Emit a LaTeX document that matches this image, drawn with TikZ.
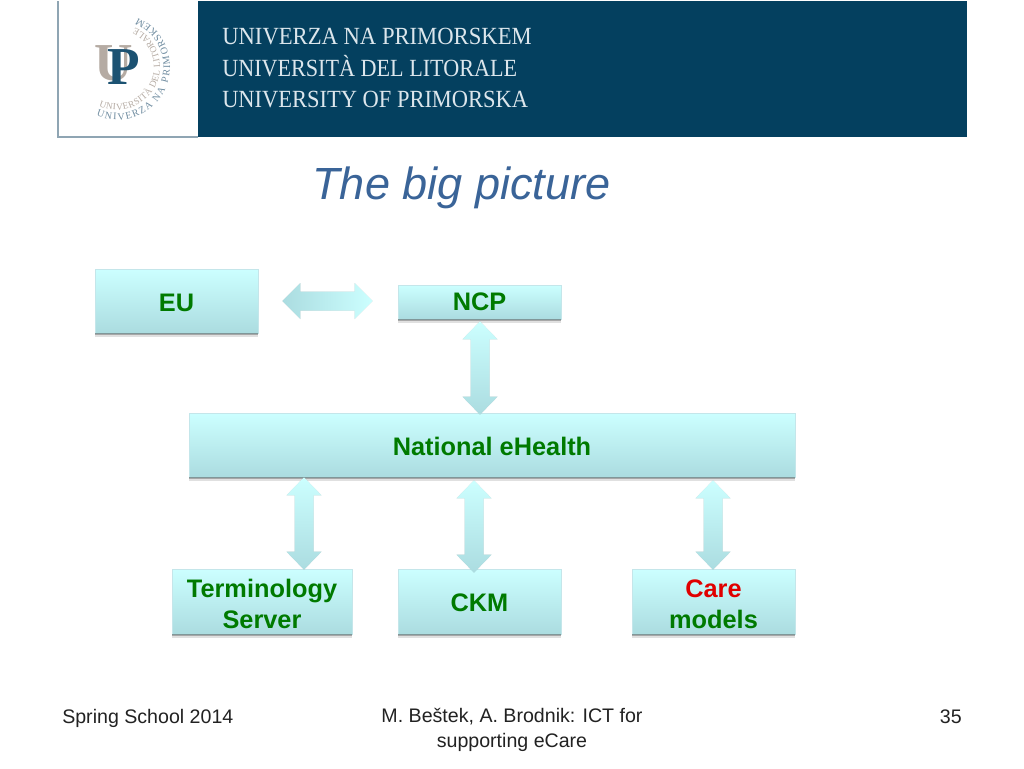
\documentclass[tikz,border=0pt]{standalone}
\usepackage{fontspec}
\setmainfont{Liberation Sans}
\newfontfamily\logofont{Liberation Serif}
\usetikzlibrary{calc,decorations.text}
\definecolor{headblue}{HTML}{04405F}
\definecolor{headline}{HTML}{8FA5B3}
\definecolor{headtext}{HTML}{DCE6EC}
\definecolor{logotan}{HTML}{B5ABA3}
\definecolor{logoblue}{HTML}{1C5272}
\definecolor{logogrey}{HTML}{6F8CA0}
\definecolor{titleblue}{HTML}{3A6498}
\definecolor{boxtop}{HTML}{CCFFFF}
\definecolor{boxbot}{HTML}{ABDCE0}
\definecolor{boxedge}{HTML}{C4E6EA}
\definecolor{labelgreen}{HTML}{007A00}
\definecolor{labelred}{HTML}{E00000}
\definecolor{foottext}{HTML}{222222}
\def\pxu{0.75pt}
\newcommand{\topstrut}{\rule{0pt}{15.8pt}}
\newcommand{\topstruttwo}{\rule{0pt}{17.3pt}}
\tikzset{
  x=0.75pt,y=-0.75pt,
  cbox/.style={rectangle,draw=boxedge,line width=0.5pt,top color=boxtop,bottom color=boxbot,
    text=labelgreen,align=center,inner sep=0pt,
    font=\fontsize{19}{23.25}\selectfont\bfseries},
  stripdark/.style={fill=black,opacity=0.25},
  stripsoft/.style={fill=black,opacity=0.12},
  headlabel/.style={anchor=base west,text=headtext,inner sep=0pt,font=\logofont\fontsize{18.5}{22}\selectfont},
  foot/.style={text=foottext,inner sep=0pt,font=\fontsize{14.7}{18.75}\selectfont},
  fatshadow/.style={fill=black,opacity=0.18}
}
% vertical double arrow between two named nodes: x, upper node tip, lower node tip
\newcommand{\vfatpath}{(ta) -- ($(ta)+(17.5,18)$) -- ($(ta)+(9.5,18)$) -- ($(tb)+(9.5,-18)$) -- ($(tb)+(17.5,-18)$) -- (tb) -- ($(tb)+(-17.5,-18)$) -- ($(tb)+(-9.5,-18)$) -- ($(ta)+(-9.5,18)$) -- ($(ta)+(-17.5,18)$) -- cycle}
\newcommand{\vfat}[3]{%
  \coordinate (pa) at (#2);
  \coordinate (pb) at (#3);
  \coordinate (ta) at (#1,0 |- pa);
  \coordinate (tb) at (#1,0 |- pb);
  \fill[fatshadow,yshift=-1.5pt] \vfatpath;
  \shade[top color=boxtop,bottom color=boxbot] \vfatpath;
}
\begin{document}
\begin{tikzpicture}
\useasboundingbox (0,0) rectangle (1024,768);
\fill[white] (0,0) rectangle (1024,768);
% header
\fill[headblue] (198,1) rectangle (967,137);
\draw[headline,line width=1.5pt] (58,1) -- (58,137) -- (198,137);
\node[headlabel] (h1) at (222,44) {\scalebox{0.918}[1]{UNIVERZA NA PRIMORSKEM}};
\node[headlabel] (h2) at (222,76) {\scalebox{0.898}[1]{UNIVERSITÀ DEL LITORALE}};
\node[headlabel] (h3) at (222,107) {\scalebox{0.911}[1]{UNIVERSITY OF PRIMORSKA}};
% logo
\node[anchor=center,inner sep=0pt,text=logotan,font=\logofont\bfseries\fontsize{40}{40}\selectfont] (logou) at (114,63) {U};
\node[anchor=center,inner sep=0pt,text=logoblue,font=\logofont\bfseries\fontsize{40}{40}\selectfont] (logop) at (124,67.5) {P};
\path[decorate,decoration={text along path,text align=fit to path,
  text={|\logofont\fontsize{7.5}{7.5}\selectfont\color{logogrey}|UNIVERZA NA PRIMORSKEM}}]
  ([shift={(-247:53)}]117,67) arc[start angle=-247,end angle=-427,radius=53];
\path[decorate,decoration={text along path,text align=fit to path,
  text={|\logofont\fontsize{7}{7}\selectfont\color{logotan}|UNIVERSITÀ DEL LITORALE}}]
  ([shift={(-245:43)}]117,67) arc[start angle=-245,end angle=-425,radius=43];
% title
\node[anchor=base,inner sep=0pt,text=titleblue,font=\fontsize{33.8}{40}\selectfont\itshape] (title) at (461.5,199) {The big picture};
% boxes
\node[cbox,minimum width=163*\pxu,minimum height=64*\pxu] (eu) at (176.5,301) {\topstrut EU};
\node[cbox,minimum width=163*\pxu,minimum height=34*\pxu] (ncp) at (479.5,302) {NCP};
\node[cbox,minimum width=606*\pxu,minimum height=64*\pxu] (nat) at (492,445) {\topstrut National eHealth};
\node[cbox,minimum width=180*\pxu,minimum height=65*\pxu] (term) at (262,601.5) {\topstruttwo Terminology\\Server};
\node[cbox,minimum width=163*\pxu,minimum height=65*\pxu] (ckm) at (479.5,601.5) {\topstrut CKM};
\node[cbox,minimum width=163*\pxu,minimum height=65*\pxu] (care) at (713.5,601.5) {\topstruttwo\textcolor{labelred}{Care}\\models};
% box shadows
\foreach \boxname in {eu,ncp,nat,term,ckm,care}{
  \fill[stripdark] (\boxname.south west) rectangle ($(\boxname.south east)+(0,2)$);
  \fill[stripsoft] (\boxname.south west) rectangle ($(\boxname.south east)+(0,3.5)$);
}
% horizontal arrow
\coordinate (hl) at ($(eu.east)+(24,0)$);
\coordinate (hr) at ($(ncp.west |- eu.east)+(-25,0)$);
\fill[fatshadow,yshift=-1.5pt] (hl) -- ($(hl)+(18,-18)$) -- ($(hl)+(18,-9.5)$) -- ($(hr)+(-18,-9.5)$) -- ($(hr)+(-18,-18)$) -- (hr) -- ($(hr)+(-18,18)$) -- ($(hr)+(-18,9.5)$) -- ($(hl)+(18,9.5)$) -- ($(hl)+(18,18)$) -- cycle;
\shade[left color=boxbot,right color=boxtop] (hl) -- ($(hl)+(18,-18)$) -- ($(hl)+(18,-9.5)$) -- ($(hr)+(-18,-9.5)$) -- ($(hr)+(-18,-18)$) -- (hr) -- ($(hr)+(-18,18)$) -- ($(hr)+(-18,9.5)$) -- ($(hl)+(18,9.5)$) -- ($(hl)+(18,18)$) -- cycle;
% vertical arrows
\vfat{480}{$(ncp.south)+(0,2)$}{$(nat.north)+(0,2)$}
\vfat{304}{nat.south}{$(term.north)+(0,1)$}
\vfat{474}{$(nat.south)+(0,3)$}{$(ckm.north)+(0,4)$}
\vfat{713}{$(nat.south)+(0,3)$}{$(care.north)+(0,1)$}
% footer
\node[foot,anchor=base west] (f1) at (62,723) {Spring School 2014};
\node[foot,anchor=north,align=center] (f2) at (512,708) {M. Beštek, A. Brodnik: ICT for\\supporting eCare};
\node[foot,anchor=base east] (f3) at (962,723) {35};
\end{tikzpicture}
\end{document}
